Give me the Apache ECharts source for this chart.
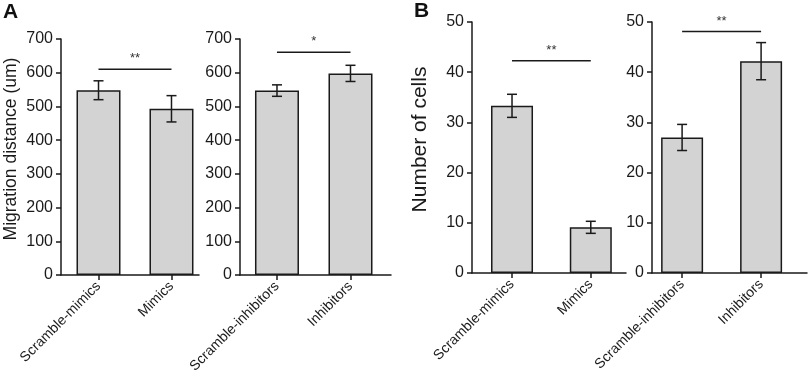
<!DOCTYPE html>
<html>
<head>
<meta charset="utf-8">
<script src="https://cdn.jsdelivr.net/npm/echarts@6/dist/echarts.min.js"></script>
<style>
  html, body { margin: 0; padding: 0; background: #fff; }
  #main { width: 809px; height: 380px; }
</style>
</head>
<body>
<div id="main"></div>
<script>
// 数据
var catsMimics = ['Scramble-mimics', 'Mimics'];
var catsInhib = ['Scramble-inhibitors', 'Inhibitors'];

var migMimics = [548, 493];
var migMimicsErr = [28, 39];
var migInhib = [547, 598];
var migInhibErr = [17, 24];

var cellMimics = [33.3, 9.1];
var cellMimicsErr = [2.3, 1.2];
var cellInhib = [27.0, 42.2];
var cellInhibErr = [2.6, 3.7];

// 显著性标记: [起, 止, 高度, 文字]
var sigA1 = [0, 1, 610, '**'];
var sigA2 = [0, 1, 661, '*'];
var sigB1 = [0, 1, 42.3, '**'];
var sigB2 = [0, 1, 48.1, '**'];

var font = 'Liberation Sans, Arial, sans-serif';
var chart = echarts.init(document.getElementById('main'));

var panels = [
    { cats: catsMimics, vals: migMimics, err: migMimicsErr, sig: sigA1,
      grid: { left: 61, top: 39, width: 138, height: 236 }, xr: [-0.514, 1.377],
      ymax: 700, step: 100, name: 'Migration distance (um)', nameSize: 17.5, bw: 44 },
    { cats: catsInhib, vals: migInhib, err: migInhibErr, sig: sigA2,
      grid: { left: 240, top: 39, width: 151, height: 236 }, xr: [-0.503, 1.551],
      ymax: 700, step: 100, name: '', bw: 44 },
    { cats: catsMimics, vals: cellMimics, err: cellMimicsErr, sig: sigB1,
      grid: { left: 472, top: 22, width: 154, height: 251 }, xr: [-0.508, 1.447],
      ymax: 50, step: 10, name: 'Number of cells', nameSize: 21, bw: 42 },
    { cats: catsInhib, vals: cellInhib, err: cellInhibErr, sig: sigB2,
      grid: { left: 652, top: 22, width: 155, height: 251 }, xr: [-0.381, 1.581],
      ymax: 50, step: 10, name: '', bw: 42 }
];

var grids = [], xAxes = [], yAxes = [], series = [];

panels.forEach(function (p, i) {
    grids.push(p.grid);
    xAxes.push({
        type: 'value', gridIndex: i, min: p.xr[0], max: p.xr[1],
        splitLine: { show: false },
        axisLine: { show: true, onZero: false, lineStyle: { color: '#1a1a1a', width: 1.5 } },
        axisTick: { show: true, customValues: [0, 1], length: 5, lineStyle: { color: '#1a1a1a', width: 1.5 } },
        axisLabel: {
            customValues: [0, 1], rotate: 45, margin: 9,
            fontFamily: font, fontSize: 14, color: '#1a1a1a',
            formatter: function (v) { return p.cats[Math.round(v)]; }
        }
    });
    yAxes.push({
        type: 'value', gridIndex: i, min: 0, max: p.ymax, interval: p.step,
        name: p.name, nameLocation: 'middle', nameGap: 41,
        nameTextStyle: { fontFamily: font, fontSize: p.nameSize || 16, color: '#1a1a1a', padding: [0, 0, 0, 16] },
        splitLine: { show: false },
        axisLine: { show: true, onZero: false, lineStyle: { color: '#1a1a1a', width: 1.5 } },
        axisTick: { show: true, length: 5, lineStyle: { color: '#1a1a1a', width: 1.5 } },
        axisLabel: { fontFamily: font, fontSize: 16, color: '#1a1a1a', margin: 8 }
    });

    series.push({
        type: 'bar', xAxisIndex: i, yAxisIndex: i, barWidth: p.bw,
        data: p.vals.map(function (v, k) { return [k, v]; }),
        itemStyle: { color: '#d3d3d3', borderColor: '#1a1a1a', borderWidth: 1.5 },
        silent: true
    });

    // 误差线
    series.push({
        type: 'custom', xAxisIndex: i, yAxisIndex: i, z: 5,
        data: p.vals.map(function (v, k) { return [k, v, p.err[k]]; }),
        renderItem: function (params, api) {
            var x = api.value(0), m = api.value(1), e = api.value(2);
            var hi = api.coord([x, m + e]);
            var lo = api.coord([x, m - e]);
            var hw = 5;
            var st = { stroke: '#1a1a1a', lineWidth: 1.5 };
            return {
                type: 'group',
                children: [
                    { type: 'line', shape: { x1: hi[0], y1: hi[1], x2: lo[0], y2: lo[1] }, style: st },
                    { type: 'line', shape: { x1: hi[0] - hw, y1: hi[1], x2: hi[0] + hw, y2: hi[1] }, style: st },
                    { type: 'line', shape: { x1: lo[0] - hw, y1: lo[1], x2: lo[0] + hw, y2: lo[1] }, style: st }
                ]
            };
        }
    });

    // 显著性横线
    series.push({
        type: 'custom', xAxisIndex: i, yAxisIndex: i, z: 5,
        data: [p.sig],
        renderItem: function (params, api) {
            var a = api.coord([api.value(0), api.value(2)]);
            var b = api.coord([api.value(1), api.value(2)]);
            return {
                type: 'group',
                children: [
                    { type: 'line', shape: { x1: a[0], y1: a[1], x2: b[0], y2: b[1] },
                      style: { stroke: '#1a1a1a', lineWidth: 1.5 } },
                    { type: 'text', x: (a[0] + b[0]) / 2, y: a[1] - 4,
                      style: { text: p.sig[3], fontFamily: font, fontSize: 13, fill: '#333',
                               align: 'center', verticalAlign: 'bottom' } }
                ]
            };
        }
    });
});

var option = {
    animation: false,
    backgroundColor: '#fff',
    title: [
        { text: 'A', left: 3, top: 2, padding: 0, textStyle: { fontFamily: font, fontSize: 21, fontWeight: 'bold', color: '#111' } },
        { text: 'B', left: 414, top: 1, padding: 0, textStyle: { fontFamily: font, fontSize: 21, fontWeight: 'bold', color: '#111' } }
    ],
    grid: grids,
    xAxis: xAxes,
    yAxis: yAxes,
    series: series
};
chart.setOption(option);
</script>
</body>
</html>
